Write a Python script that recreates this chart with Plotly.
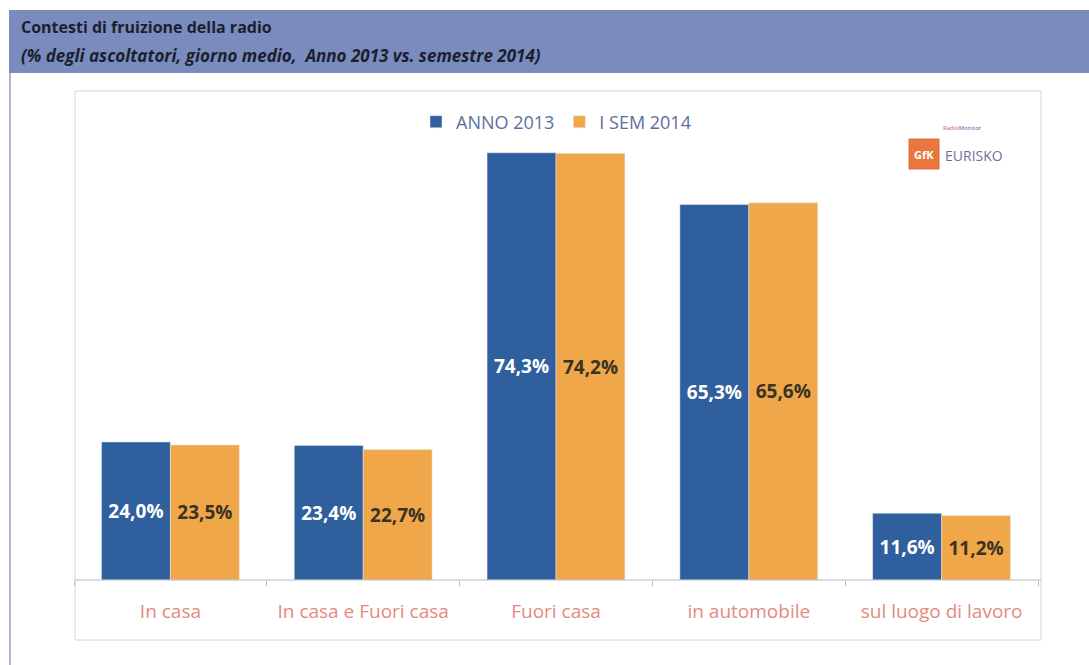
import plotly.graph_objects as go

# Contesti di fruizione della radio: ascoltatori nel giorno medio
categorie = ["In casa", "In casa e Fuori casa", "Fuori casa", "in automobile", "sul luogo di lavoro"]
anno_2013 = [24.0, 23.4, 74.3, 65.3, 11.6]
sem_2014 = [23.5, 22.7, 74.2, 65.6, 11.2]
nomi_serie = ["ANNO 2013", "I SEM 2014"]

W, H = 1089, 665
ML, MR, MT, MB = 74, 51, 120, 85
PW, PH = W - ML - MR, H - MT - MB


def px(x):
    return (x - ML) / PW


def py(y):
    return (H - MB - y) / PH


BLU = "#2f5f9c"
ARANCIO = "#f0a74a"
FONT = "Open Sans"

fig = go.Figure()
fig.add_trace(go.Bar(
    x=categorie, y=anno_2013, name=nomi_serie[0], marker_color=BLU,
    texttemplate="<b>%{y:.1f}%</b>", textposition="inside", insidetextanchor="middle",
    textfont=dict(color="white", size=19, family=FONT), textangle=0,
))
fig.add_trace(go.Bar(
    x=categorie, y=sem_2014, name=nomi_serie[1], marker_color=ARANCIO,
    texttemplate="<b>%{y:.1f}%</b>", textposition="inside", insidetextanchor="middle",
    textfont=dict(color="#3a3222", size=19, family=FONT), textangle=0,
))

shapes = [
    # fascia del titolo
    dict(type="rect", xref="paper", yref="paper", x0=px(9), x1=px(1089), y0=py(10), y1=py(73),
         fillcolor="#7a8cbe", line=dict(width=0), layer="below"),
    # bordo sinistro del pannello
    dict(type="line", xref="paper", yref="paper", x0=px(10), x1=px(10), y0=py(73), y1=py(665),
         line=dict(color="#aab6d6", width=2)),
    # riquadro del grafico
    dict(type="rect", xref="paper", yref="paper", x0=px(75), x1=px(1041), y0=py(91), y1=py(640),
         line=dict(color="#d4d6de", width=1), layer="below"),
    # asse orizzontale
    dict(type="line", xref="paper", yref="paper", x0=px(75), x1=px(1041), y0=py(580), y1=py(580),
         line=dict(color="#b8bcc8", width=1.2)),
    # logo GfK
    dict(type="rect", xref="paper", yref="paper", x0=px(909), x1=px(939), y0=py(139), y1=py(169),
         fillcolor="#e8773e", line=dict(color="#e56a45", width=1)),
]

annotations = [
    dict(text="<b>Contesti di fruizione della radio</b>", xref="paper", yref="paper",
         x=px(19), y=py(27), xanchor="left", yanchor="middle", showarrow=False,
         font=dict(family=FONT, size=16, color="#1c1f2e")),
    dict(text="<b><i>(% degli ascoltatori, giorno medio,  Anno 2013 vs. semestre 2014)</i></b>",
         xref="paper", yref="paper", x=px(19), y=py(56), xanchor="left", yanchor="middle",
         showarrow=False, font=dict(family=FONT, size=17, color="#1c1f2e")),
    dict(text="<b>GfK</b>", xref="paper", yref="paper", x=px(924), y=py(154), xanchor="center",
         yanchor="middle", showarrow=False, font=dict(family=FONT, size=11, color="white")),
    dict(text="EURISKO", xref="paper", yref="paper", x=px(943), y=py(155), xanchor="left",
         yanchor="middle", showarrow=False, font=dict(family=FONT, size=14, color="#6b7098")),
    dict(text="<span style='color:#d05a5a'>Radio</span><span style='color:#4a5aa0'>Monitor</span>",
         xref="paper", yref="paper", x=px(962), y=py(128), xanchor="center", yanchor="middle",
         showarrow=False, font=dict(family=FONT, size=6)),
]

fig.update_layout(
    width=W, height=H,
    margin=dict(l=ML, r=MR, t=MT, b=MB),
    paper_bgcolor="white", plot_bgcolor="rgba(0,0,0,0)",
    separators=",.",
    barmode="group", bargap=0.285, bargroupgap=0,
    showlegend=True,
    legend=dict(orientation="h", x=0.5, xanchor="center", y=py(122), yanchor="middle",
                font=dict(family=FONT, size=18, color="#5b6ea2"), itemwidth=30,
                bgcolor="rgba(0,0,0,0)", traceorder="normal"),
    xaxis=dict(showline=False, ticks="outside", tickson="boundaries", ticklen=5,
               tickcolor="#b8bcc8", showgrid=False,
               tickfont=dict(family=FONT, size=19, color="#e38a7e"), ticklabelstandoff=18),
    yaxis=dict(range=[0, 80], visible=False, showgrid=False, zeroline=False),
    shapes=shapes,
    annotations=annotations,
    font=dict(family=FONT),
    uniformtext=dict(minsize=10, mode="show"),
)

fig.write_html("out.html")
